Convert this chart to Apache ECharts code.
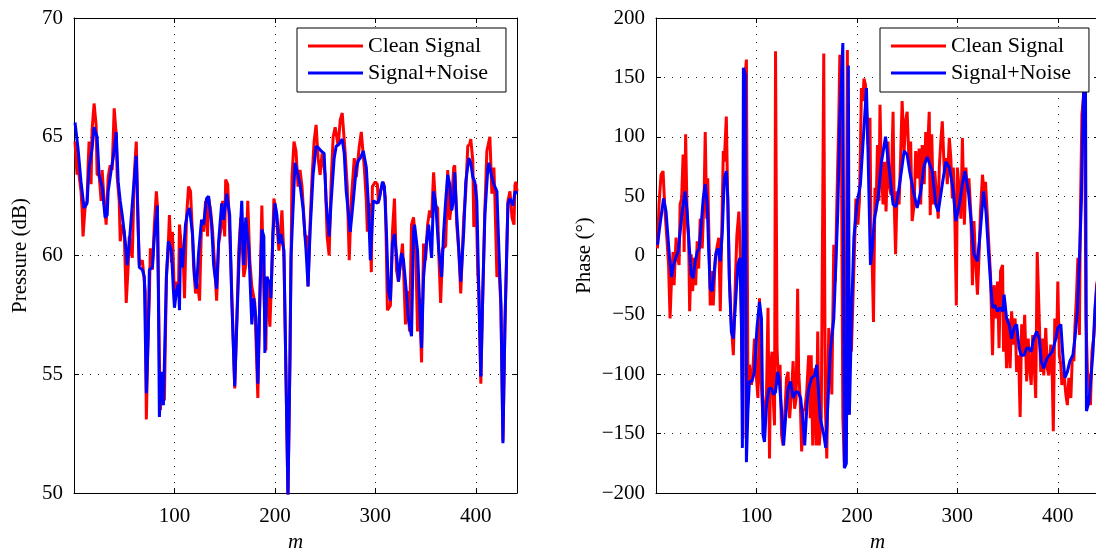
<!DOCTYPE html>
<html>
<head>
<meta charset="utf-8">
<title>Pressure and phase</title>
<script src="https://cdn.jsdelivr.net/npm/echarts@6/dist/echarts.min.js"></script>
<style>
  html, body { margin: 0; padding: 0; background: #fff; }
  #main { width: 1096px; height: 550px; }
</style>
</head>
<body>
<div id="main"></div>
<script>
// left panel: pressure (dB) against m
var pressureCleanM = [1,3,4,5,7,8,9,11,13,14,15,17,18,20,22,23,25,27,28,30,32,34,36,38,40,42,43,45,46,48,50,52,54,55,58,60,62,64,65,68,69,71,72,74,75,76,78,80,82,83,85,86,88,90,92,94,95,97,98,100,102,104,105,107,109,110,112,114,116,118,119,121,123,125,127,129,131,133,134,136,138,140,142,144,147,148,150,
  151,153,155,157,160,162,164,166,169,171,173,175,177,180,183,185,187,189,191,192,195,197,199,201,204,207,209,211,213,215,217,219,221,223,225,227,230,232,233,235,237,239,241,243,245,247,250,252,254,256,258,260,263,265,267,270,272,274,276,279,281,284,286,289,291,292,294,296,
  297,298,300,302,303,305,308,310,312,315,317,319,321,323,327,328,330,332,334,336,338,340,342,344,346,348,350,352,354,356,358,360,362,363,365,367,370,372,374,376,378,379,381,383,385,388,390,392,394,395,397,398,400,402,403,405,407,409,411,413,414,416,418,419,421,423,425,427,429,432,434,436,438,439,440,441];
var pressureClean = [64.8,63.4,64.3,63.4,62.7,62.0,60.8,62.0,62.3,63.7,64.8,63.0,65.3,66.4,65.5,63.4,63.4,62.3,63.6,62.3,61.3,63.3,63.8,63.6,66.2,65.1,63.3,62.3,60.6,61.3,61.0,58.0,59.6,60.8,59.9,63.4,64.8,61.0,59.6,59.8,59.8,58.5,53.1,57.1,58.2,60.3,59.4,61.3,62.7,62.1,55.7,53.5,55.0,53.9,59.1,60.6,61.7,59.7,61.0,58.2,58.9,58.5,61.3,60.3,59.5,58.2,61.6,62.9,62.7,60.8,59.6,58.4,58.8,58.1,61.5,61.0,62.3,60.8,62.4,61.9,61.0,59.6,58.1,60.5,61.3,62.3,60.8,
  63.2,63.0,61.0,58.5,54.4,57.1,60.2,61.6,59.1,59.6,62.3,59.8,58.7,58.0,54.0,58.2,62.1,58.5,56.0,59.1,57.0,59.4,62.4,61.9,60.2,61.9,59.9,55.0,49.8,55.7,63.3,64.8,64.4,62.9,63.6,62.9,60.8,60.8,58.7,61.3,63.3,64.8,65.5,64.1,63.4,64.3,63.4,60.8,60.0,63.1,65.0,65.4,64.6,65.7,66.0,64.3,62.9,59.8,62.3,64.1,63.3,64.6,65.2,63.7,62.3,61.0,62.2,59.3,
  62.9,62.9,63.1,63.0,62.2,62.7,63.1,62.4,57.7,57.9,61.0,62.4,59.4,58.9,60.5,59.5,57.1,58.5,56.8,61.3,61.6,60.6,56.8,58.2,55.5,60.5,59.8,61.3,61.9,61.6,63.5,62.1,62.0,60.2,58.0,60.3,60.4,63.6,61.5,62.3,63.7,63.8,61.3,60.2,58.4,61.6,62.7,64.6,64.7,64.9,64.0,61.2,63.0,59.2,58.5,54.6,58.5,61.9,64.4,64.8,65.0,62.6,63.7,62.4,59.1,59.6,57.8,52.2,57.1,62.3,62.7,61.6,61.3,63.0,63.1,62.7];

var pressureNoisyM = [1,4,7,10,13,15,18,20,23,25,28,31,33,34,37,39,42,44,46,48,51,53,55,57,59,62,64,65,68,70,72,74,75,78,80,83,84,85,87,89,92,94,97,99,100,102,104,105,106,108,111,113,115,118,120,122,124,127,129,132,134,137,139,142,144,147,149,
  152,155,157,160,162,165,167,169,171,174,177,179,181,183,185,187,189,190,192,195,196,198,200,202,204,206,209,211,213,215,216,219,220,223,225,228,231,233,235,238,241,243,246,249,251,254,256,259,261,264,267,269,271,275,278,281,283,285,288,291,293,295,
  298,302,304,307,309,311,313,315,317,319,322,323,326,328,331,333,336,338,339,342,344,346,348,351,353,356,358,360,363,366,368,370,372,374,376,378,379,381,383,385,388,390,393,395,397,399,401,403,405,407,409,412,413,416,418,421,423,425,427,429,432,434,437,439,441];
var pressureNoisy = [65.6,64.5,63.1,62.0,62.2,63.7,64.5,65.4,65.0,63.4,62.9,61.6,61.7,62.7,63.6,64.1,65.2,63.1,62.3,61.7,60.6,59.6,60.5,61.6,62.7,64.2,61.0,59.5,59.4,59.1,54.2,56.8,59.4,59.5,60.8,62.1,58.5,53.2,55.1,53.7,59.1,60.6,60.2,58.5,57.8,58.5,58.8,57.7,60.3,59.5,61.3,61.8,62.0,60.9,59.1,58.6,60.1,61.5,61.3,62.4,62.5,61.3,59.6,58.6,60.6,62.2,61.5,
  62.6,61.7,58.2,54.5,57.1,60.6,62.3,59.6,61.6,60.3,57.1,58.2,57.4,54.6,58.2,61.1,60.8,55.9,59.1,58.8,58.2,60.9,62.2,61.7,60.5,60.9,60.2,55.0,49.8,55.7,59.9,62.9,63.9,63.4,63.0,62.0,60.2,58.7,61.0,63.4,64.6,64.55,64.4,64.3,62.3,60.8,62.3,64.1,64.6,64.7,64.9,64.3,62.7,61.0,62.3,63.7,64.0,64.1,64.4,63.7,62.2,59.8,
  62.3,62.2,62.4,63.1,62.9,61.0,58.5,58.1,60.5,60.9,59.6,58.9,60.1,59.8,58.4,57.3,56.6,61.0,61.3,60.2,58.0,56.1,59.1,60.6,61.3,59.9,62.7,62.2,60.3,59.1,61.0,62.3,63.4,63.0,61.9,62.4,63.5,61.7,60.3,58.9,61.0,63.1,64.1,63.9,63.3,63.1,62.3,58.5,54.9,58.5,61.7,63.7,63.9,63.3,63.0,62.7,60.2,58.0,52.1,57.1,62.2,62.4,62.1,62.7,62.6];

// right panel: phase (degrees) against m
var phaseCleanM = [1.5,3,5,7,9,11,12.5,14,15.5,17,18,20,21.5,23,24,25.5,27,28,29.5,31,32.5,33.5,35,36.5,38,39.5,41,42.5,44,46,48,49,50.5,51.5,53,54,56,57,59,60.5,62.5,64,65.5,67,68,70,71.5,73,75,77,79,80.5,82.5,84,85.5,86.5,88,90,91.5,93,95,96.5,98,100,101.5,103,104.5,106.5,108,110,111.5,113,114,115.5,117,118,119,120.5,122,123.5,125,126.5,128,130,131.5,133,135,136.5,138,139.5,141,142,143.5,145,146.5,148,150,
  152,153.5,154.5,156,158,159.5,161,162.5,164.5,167,168.5,170,172,174,175,177,178.5,180,182,183,184.5,186,187.5,189,190.5,192,193,194.5,196,197.5,199,201,202.5,203.5,204.5,206,207,208.5,210,211,213,214,215,216.5,218,219,220.5,222,223,224,226,227.5,229,231,232,234,236,237,238.5,240,242,243.5,245,247,248.5,250,252,253.5,255,257,258.5,260,262,263.5,265,267,268.5,270,272,273,274.5,276,277.5,279,281,282,283.5,285,287,288.5,290,292,293.5,295,
  296,297.5,299,300,302,303.5,305,307,308.5,310,311.5,313.5,315,316.5,318,320,321.5,323,325,326.5,328,330,331.5,333,335,336.5,338,340,341.5,343,345,346,347,349,350.5,352.5,354,356,357.5,359,361,362.5,364,365.5,367,369,370.5,372,373.5,375,376.5,378,379.5,381.5,383,384.5,386,388,389.5,391,393,394.5,395.5,397,399,400,401.5,403,404,406,408,409.5,411,413,414.5,416,417,418.5,420,421.5,422.5,424,425.5,426.5,428,429.5,431,432.5,434,436,437.5,438.5,441];
var phaseClean = [6,43,68,71,37,12,-8,-53,-19,3,-25,15,-2,-8,43,48,85,3,102,31,15,-47,1,-30,-2,-25,12,-11,31,6,54,104,31,65,3,-42,-13,-42,-2,6,15,-47,20,88,79,117,43,-19,-58,-84,-22,17,37,-2,-81,-154,144,165,-109,-92,-109,-95,-70,-103,-120,-36,-103,-137,-129,-117,-44,-171,-95,-81,-126,-143,172,-78,-109,-92,-151,-160,-137,-103,-98,-137,-115,-89,-129,-120,-28,-98,-120,-165,-129,-131,-115,
  -84,-137,-84,-160,-95,-160,-64,-160,-137,170,-123,-171,-61,-81,-117,9,-22,43,116,169,116,-137,-174,-134,173,-134,-53,-81,-39,3,48,26,46,88,141,130,149,144,116,93,116,20,3,-56,57,37,93,46,127,82,43,79,37,96,60,51,121,48,1,54,43,82,130,88,113,121,76,96,29,43,88,65,90,43,93,60,104,82,121,34,102,43,71,54,31,74,96,113,71,82,60,99,82,48,
  74,31,-42,74,54,31,99,26,74,54,65,34,-25,29,-2,-33,-2,37,68,54,62,31,6,-16,-84,-25,-53,-22,-78,-13,-8,-81,-39,-95,-53,-95,-47,-75,-53,-98,-84,-136,-58,-84,-50,-106,-70,-95,-109,-67,-92,-120,3,-53,-98,-70,-101,-61,-95,-101,-75,-103,-148,-53,-70,-22,-84,-92,-109,-98,-117,-126,-103,-120,-84,-89,-61,-36,-2,-67,37,119,133,158,-53,-98,-103,-126,-81,-67,-44,-25,-15];

var phaseNoisyM = [1.5,4,7.5,10,11.5,13.5,15.5,17.5,20,22,24,26.5,29,31,32.5,35,37,39,41,43,45,47,49,51,52.5,54,56,58,60,62,64,66,68,70,71.5,73,75,77,79,81.5,83.5,85,86,87,89,90,91.5,93,95.5,98,100.5,103,105,106.5,108,110,112.5,115,117,119,121,122.5,125,127,129,131.5,134,136.5,139,141.5,144,146,148,150.5,
  152,155,158,160,163.5,167,169,173.5,177,179,181,183,186,187.5,189.5,191.5,192.5,195,197,200,203.5,207,209.5,211,213.5,215,217.5,221,224.5,228.5,232,236,239,242.5,247,250,252.5,257,260,263.5,267,270,275,278.5,281,285,288.5,292,295,
  296,298.5,302,305,307.5,311,313.5,316.5,320,322.5,326,328.5,331,333,335,337.5,340,342.5,345,346.5,349,351.5,354,356.5,359,361.5,363.5,366.5,369,371,373.5,376,379,381.5,383.5,386,389,391.5,394.5,398,400,403,405,407,409.5,412,415,417,419.5,421.5,423.5,425,426.5,427.5,428.5,431,433,435,437,438.5,441];
var phaseNoisy = [9,26,48,37,20,-2,-18,-8,-1,3,20,40,54,37,15,-16,-19,-5,3,6,26,48,60,43,3,-28,-30,-13,3,6,-5,20,65,71,48,-19,-64,-70,-42,-8,-2,-53,-162,158,152,-174,-131,-106,-106,-98,-61,-39,-53,-151,-157,-126,-112,-112,-117,-115,-98,-103,-131,-160,-137,-112,-106,-120,-115,-115,-120,-137,-160,-123,
  -112,-103,-101,-92,-137,-151,-162,-81,-53,-8,37,116,179,-179,-175,160,-134,-40,15,43,60,107,141,90,-8,3,31,48,79,100,74,43,41,60,88,85,71,51,40,54,76,83,71,43,37,60,79,74,60,
  54,29,43,60,71,54,31,1,-5,17,54,37,3,-22,-44,-42,-47,-44,-47,-33,-53,-58,-70,-61,-58,-78,-84,-84,-78,-78,-81,-70,-64,-70,-89,-95,-87,-84,-81,-70,-61,-58,-84,-103,-98,-89,-84,-70,-47,-2,46,116,166,160,-131,-123,-103,-81,-44,-30,-10];

var xTicks = [100, 200, 300, 400];
var pressureTicks = [50, 55, 60, 65, 70];
var phaseTicks = [-200, -150, -100, -50, 0, 50, 100, 150, 200];

var FONT = "'Liberation Serif', 'Times New Roman', serif";

function pairs(ms, vs) {
  return ms.map(function (m, i) { return [m, vs[i]]; });
}

function xAxisFor(grid, top) {
  return {
    type: 'value', gridIndex: grid, position: top ? 'top' : 'bottom',
    min: 0, max: 441, interval: 100,
    name: top ? '' : 'm', nameLocation: 'middle', nameGap: 28,
    nameTextStyle: { fontFamily: FONT, fontSize: 21, fontStyle: 'italic', color: '#000' },
    axisLine: { show: true, onZero: false, lineStyle: { color: '#000', width: 1 } },
    axisTick: { show: true, inside: true, length: 5, lineStyle: { color: '#000' } },
    axisLabel: {
      show: !top, showMinLabel: false, showMaxLabel: false, margin: 13,
      fontFamily: FONT, fontSize: 21, color: '#000'
    },
    splitLine: { show: !top, lineStyle: { color: '#222', type: [1, 7], width: 1 } }
  };
}

function yAxisFor(grid, right, ticks, name, gap) {
  return {
    type: 'value', gridIndex: grid, position: right ? 'right' : 'left',
    min: ticks[0], max: ticks[ticks.length - 1], interval: ticks[1] - ticks[0],
    name: right ? '' : name, nameLocation: 'middle', nameGap: gap,
    nameTextStyle: { fontFamily: FONT, fontSize: 21, color: '#000' },
    axisLine: { show: true, onZero: false, lineStyle: { color: '#000', width: 1 } },
    axisTick: { show: true, inside: true, length: 5, lineStyle: { color: '#000' } },
    axisLabel: {
      show: !right, margin: 11, fontFamily: FONT, fontSize: 21, color: '#000',
      formatter: function (v) { return String(v).replace('-', '\u2212'); }
    },
    splitLine: { show: !right, lineStyle: { color: '#222', type: [1, 7], width: 1 } }
  };
}

function lineSeries(name, color, xi, yi, data) {
  return {
    name: name, type: 'line', xAxisIndex: xi, yAxisIndex: yi,
    data: data, showSymbol: false, symbol: 'none', clip: true,
    lineStyle: { color: color, width: 3 }, itemStyle: { color: color },
    animation: false
  };
}

function legendAt(left) {
  return {
    left: left, top: 28, orient: 'vertical',
    data: ['Clean Signal', 'Signal+Noise'],
    icon: 'rect', itemWidth: 55, itemHeight: 3, itemGap: 5,
    padding: [7, 18, 8, 11],
    backgroundColor: '#fff', borderColor: '#000', borderWidth: 1, borderRadius: 0,
    textStyle: { fontFamily: FONT, fontSize: 22, color: '#000', lineHeight: 22 },
    selectedMode: false
  };
}

var myChart = echarts.init(document.getElementById('main'), null, { renderer: 'canvas' });

var option = {
  backgroundColor: '#fff',
  animation: false,
  grid: [
    { left: 74, top: 18, width: 443, height: 475, outerBoundsMode: 'none', containLabel: false },
    { left: 656, top: 18, width: 443, height: 475, outerBoundsMode: 'none', containLabel: false }
  ],
  legend: [legendAt(297), legendAt(880)],
  xAxis: [xAxisFor(0, false), xAxisFor(0, true), xAxisFor(1, false), xAxisFor(1, true)],
  yAxis: [
    yAxisFor(0, false, pressureTicks, 'Pressure (dB)', 43),
    yAxisFor(0, true, pressureTicks, '', 0),
    yAxisFor(1, false, phaseTicks, 'Phase (\u00b0)', 61),
    yAxisFor(1, true, phaseTicks, '', 0)
  ],
  series: [
    lineSeries('Clean Signal', '#ff0000', 0, 0, pairs(pressureCleanM, pressureClean)),
    lineSeries('Signal+Noise', '#0000ff', 0, 0, pairs(pressureNoisyM, pressureNoisy)),
    lineSeries('Clean Signal', '#ff0000', 2, 2, pairs(phaseCleanM, phaseClean)),
    lineSeries('Signal+Noise', '#0000ff', 2, 2, pairs(phaseNoisyM, phaseNoisy))
  ]
};

myChart.setOption(option);
</script>
</body>
</html>
